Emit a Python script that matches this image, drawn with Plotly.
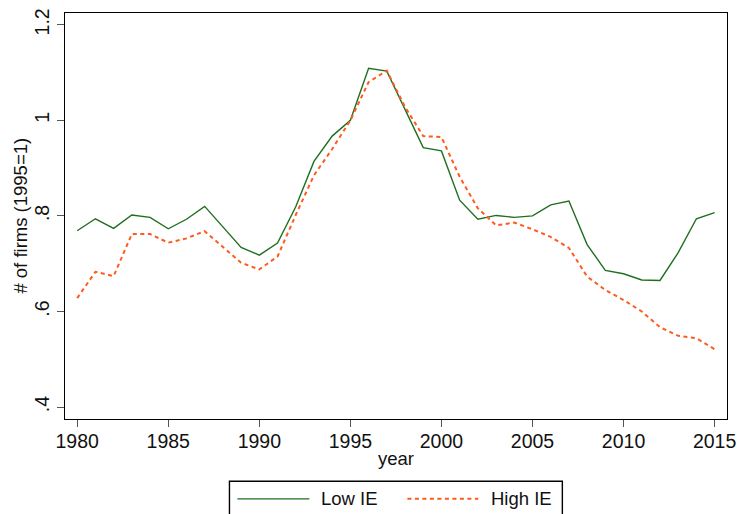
import plotly.graph_objects as go

# Firm counts indexed to 1995 = 1, by import-exposure group
years = list(range(1980, 2016))
low_ie = [0.769, 0.794, 0.774, 0.802, 0.797, 0.773, 0.793, 0.820, 0.777, 0.734,
          0.718, 0.743, 0.819, 0.914, 0.967, 1.000, 1.109, 1.103, 1.023, 0.943,
          0.936, 0.833, 0.793, 0.801, 0.797, 0.800, 0.823, 0.831, 0.740, 0.686,
          0.679, 0.666, 0.665, 0.723, 0.794, 0.807]
high_ie = [0.628, 0.683, 0.674, 0.762, 0.762, 0.744, 0.753, 0.768, 0.735, 0.702,
           0.688, 0.715, 0.802, 0.885, 0.940, 1.000, 1.080, 1.104, 1.028, 0.967,
           0.965, 0.882, 0.816, 0.780, 0.786, 0.772, 0.756, 0.733, 0.673, 0.645,
           0.624, 0.600, 0.567, 0.549, 0.544, 0.521]

series_names = ["Low IE", "High IE"]
xtick_vals = [1980, 1985, 1990, 1995, 2000, 2005, 2010, 2015]
ytick_vals = [0.4, 0.6, 0.8, 1.0, 1.2]
ytick_text = [".4", ".6", ".8", "1", "1.2"]

GREEN = "#1f6f1f"
ORANGE = "#ff5a1f"
FONT = "Liberation Sans, Arial, Helvetica, sans-serif"
TEXT = "#111111"

W, H = 737, 514
L, R, T, B = 64.5, 726.7, 12.5, 419.3   # plot-area edges in pixels


def px_x(x):
    return (x - L) / (R - L)


def px_y(y):
    return (B - y) / (B - T)


fig = go.Figure()
fig.add_trace(go.Scatter(x=years, y=low_ie, mode="lines", name=series_names[0],
                         line=dict(color=GREEN, width=1.4)))
fig.add_trace(go.Scatter(x=years, y=high_ie, mode="lines", name=series_names[1],
                         line=dict(color=ORANGE, width=2, dash="4px,3.5px")))

axis_common = dict(showline=True, linecolor="black", linewidth=1.4, mirror=True,
                   ticks="outside", ticklen=7, tickcolor="#555555", tickwidth=1.2,
                   showgrid=False, zeroline=False, automargin=False,
                   tickfont=dict(family=FONT, size=19.5, color=TEXT))

fig.update_xaxes(range=[1979.33, 2015.68], tickvals=xtick_vals,
                 ticklabelstandoff=-3, **axis_common)
fig.update_yaxes(range=[0.375, 1.2246], tickvals=ytick_vals, ticktext=ytick_text,
                 tickangle=-90, **axis_common)

annotations = [
    dict(text="# of firms (1995=1)", xref="paper", yref="paper",
         x=px_x(20), y=px_y(216), textangle=-90, showarrow=False,
         xanchor="center", yanchor="middle",
         font=dict(family=FONT, size=18.5, color=TEXT)),
    dict(text="year", xref="paper", yref="paper",
         x=px_x(395.6), y=px_y(459), showarrow=False,
         xanchor="center", yanchor="middle",
         font=dict(family=FONT, size=18.5, color=TEXT)),
    dict(text=series_names[0], xref="paper", yref="paper",
         x=px_x(319), y=px_y(499), showarrow=False,
         xanchor="left", yanchor="middle",
         font=dict(family=FONT, size=18.5, color=TEXT)),
    dict(text=series_names[1], xref="paper", yref="paper",
         x=px_x(489), y=px_y(499), showarrow=False,
         xanchor="left", yanchor="middle",
         font=dict(family=FONT, size=18.5, color=TEXT)),
]

shapes = [
    # legend frame (runs off the bottom edge)
    dict(type="rect", xref="paper", yref="paper",
         x0=px_x(229), x1=px_x(562), y0=px_y(481.7), y1=px_y(540),
         line=dict(color="black", width=1.4), fillcolor="white", layer="above"),
    dict(type="line", xref="paper", yref="paper",
         x0=px_x(237), x1=px_x(309), y0=px_y(499.3), y1=px_y(499.3),
         line=dict(color=GREEN, width=1.4)),
    dict(type="line", xref="paper", yref="paper",
         x0=px_x(407), x1=px_x(478), y0=px_y(499.3), y1=px_y(499.3),
         line=dict(color=ORANGE, width=2, dash="4px,3.5px")),
]

fig.update_layout(
    width=W, height=H,
    margin=dict(l=L, r=W - R, t=T, b=H - B),
    paper_bgcolor="white", plot_bgcolor="white",
    showlegend=False,
    annotations=annotations, shapes=shapes,
    font=dict(family=FONT, size=18, color=TEXT),
)

fig.write_html("out.html")
